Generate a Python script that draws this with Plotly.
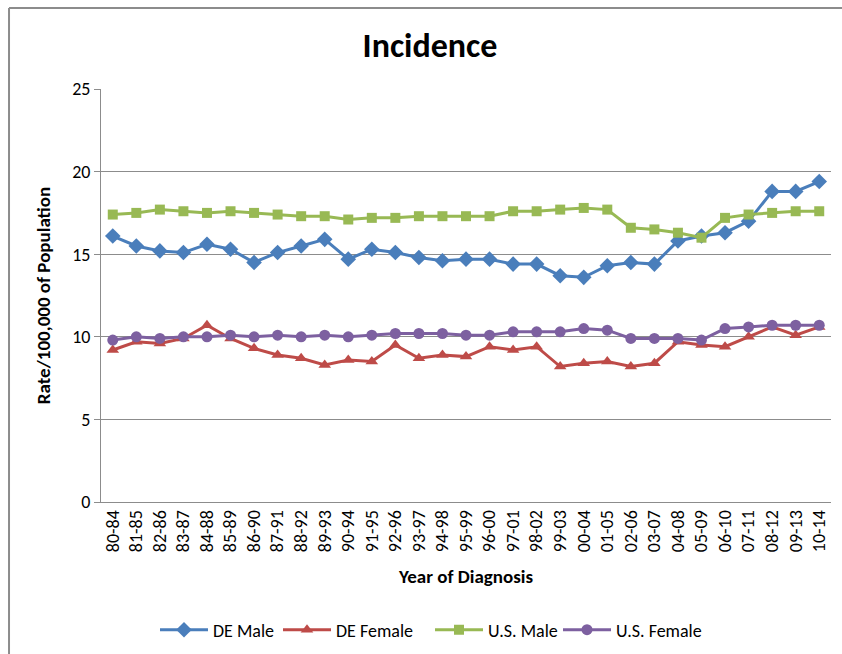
import plotly.graph_objects as go

categories = ["80-84","81-85","82-86","83-87","84-88","85-89","86-90","87-91","88-92","89-93",
              "90-94","91-95","92-96","93-97","94-98","95-99","96-00","97-01","98-02","99-03",
              "00-04","01-05","02-06","03-07","04-08","05-09","06-10","07-11","08-12","09-13","10-14"]

de_male = [16.1, 15.5, 15.2, 15.1, 15.6, 15.3, 14.5, 15.1, 15.5, 15.9,
           14.7, 15.3, 15.1, 14.8, 14.6, 14.7, 14.7, 14.4, 14.4, 13.7,
           13.6, 14.3, 14.5, 14.4, 15.8, 16.1, 16.3, 17.0, 18.8, 18.8, 19.4]
de_female = [9.2, 9.7, 9.6, 9.9, 10.7, 9.9, 9.3, 8.9, 8.7, 8.3,
             8.6, 8.5, 9.5, 8.7, 8.9, 8.8, 9.4, 9.2, 9.4, 8.2,
             8.4, 8.5, 8.2, 8.4, 9.7, 9.5, 9.4, 10.0, 10.6, 10.1, 10.6]
us_male = [17.4, 17.5, 17.7, 17.6, 17.5, 17.6, 17.5, 17.4, 17.3, 17.3,
           17.1, 17.2, 17.2, 17.3, 17.3, 17.3, 17.3, 17.6, 17.6, 17.7,
           17.8, 17.7, 16.6, 16.5, 16.3, 16.0, 17.2, 17.4, 17.5, 17.6, 17.6]
us_female = [9.8, 10.0, 9.9, 10.0, 10.0, 10.1, 10.0, 10.1, 10.0, 10.1,
             10.0, 10.1, 10.2, 10.2, 10.2, 10.1, 10.1, 10.3, 10.3, 10.3,
             10.5, 10.4, 9.9, 9.9, 9.9, 9.8, 10.5, 10.6, 10.7, 10.7, 10.7]

y_ticks = [0, 5, 10, 15, 20, 25]

FONT = "Carlito, Calibri, 'Liberation Sans Narrow', 'DejaVu Sans Condensed', sans-serif"
W, H = 842, 654

series = [
    ("DE Male", de_male, "#4A7EBB", "diamond", 12, "legend", 155),
    ("DE Female", de_female, "#BE4B48", "triangle-up", 11, "legend2", 278),
    ("U.S. Male", us_male, "#98B954", "square", 10, "legend3", 430),
    ("U.S. Female", us_female, "#7D60A0", "circle", 11, "legend4", 558),
]

fig = go.Figure()
legends = {}
for name, vals, color, sym, sz, leg, lx in series:
    fig.add_trace(go.Scatter(
        x=categories, y=vals, name=name, mode="lines+markers",
        line=dict(color=color, width=3),
        marker=dict(symbol=sym, size=sz, color=color),
        legend=leg,
    ))
    legends[leg] = dict(orientation="h", x=lx / W, xanchor="left", xref="container",
                        y=1 - 630 / H, yanchor="middle", yref="container",
                        font=dict(size=18, family=FONT), itemwidth=48,
                        bgcolor="rgba(0,0,0,0)")

fig.update_layout(
    width=W, height=H,
    margin=dict(l=101, r=11, t=89, b=152),
    paper_bgcolor="white", plot_bgcolor="white",
    font=dict(family=FONT, color="black"),
    title=dict(text="<b>Incidence</b>", x=430 / W, xanchor="center", y=1 - 45 / H, yanchor="middle",
               xref="container", yref="container", font=dict(size=34, family=FONT)),
    showlegend=True,
    shapes=[
        dict(type="line", xref="paper", yref="paper", x0=-0.126, x1=1.02, y0=1.196, y1=1.196,
             line=dict(color="#8c8c8c", width=2)),
        dict(type="line", xref="paper", yref="paper", x0=-0.126, x1=-0.126, y0=-0.4, y1=1.196,
             line=dict(color="#8c8c8c", width=2)),
    ],
    **legends,
)

fig.update_xaxes(
    type="category", categoryorder="array", categoryarray=categories,
    range=[-0.5, len(categories) - 0.5], automargin=False,
    tickangle=-90, tickfont=dict(size=18, family=FONT),
    showline=True, linecolor="#8c8c8c", linewidth=1,
    showgrid=False, ticks="",
    title=dict(text="<b>Year of Diagnosis</b>", font=dict(size=19, family=FONT), standoff=18),
)
fig.update_yaxes(
    range=[0, 25], tickvals=y_ticks, ticktext=[str(v) for v in y_ticks], automargin=False,
    tickfont=dict(size=18, family=FONT),
    showline=True, linecolor="#8c8c8c", linewidth=1,
    showgrid=True, gridcolor="#8c8c8c", gridwidth=1,
    ticks="outside", ticklen=6, tickcolor="#8c8c8c",
    zeroline=False,
    title=dict(text="<b>Rate/100,000 of Population</b>", font=dict(size=19, family=FONT), standoff=16),
)

fig.write_html("out.html", config={"displayModeBar": False},
               post_script="document.body.style.margin='0';document.body.style.overflow='hidden';")
